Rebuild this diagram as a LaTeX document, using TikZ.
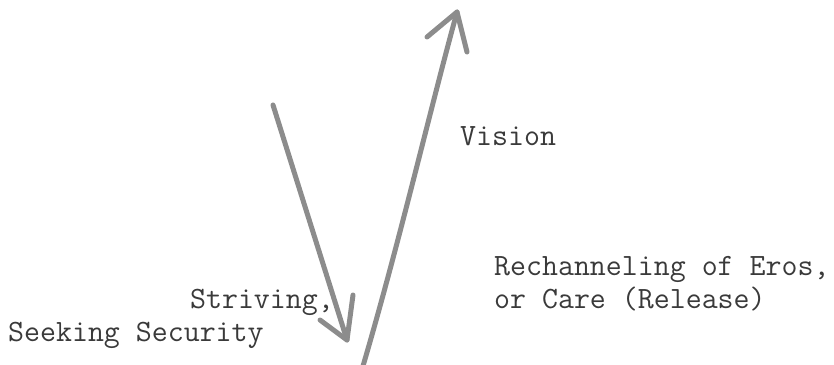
\documentclass[tikz,border=0pt]{standalone}
\usepackage{fontspec}
\usepackage{xcolor}
\usetikzlibrary{arrows.meta,calc}

\definecolor{pencil}{HTML}{8C8C8C}
\definecolor{typed}{HTML}{3A3A3A}

\tikzset{
	stroke/.style={draw=pencil, line width=5pt, line cap=round, line join=round},
	typing/.style={text=typed, inner sep=0pt, font=\ttfamily\fontsize{31}{34}\selectfont}
}

\begin{document}
\begin{tikzpicture}[x=1pt, y=-1pt]
		\useasboundingbox (0,0) rectangle (834,364);
		% 下行箭头
		\coordinate (down-start) at (273,105);
		\coordinate (down-tip) at (347,340);
		\draw[stroke] (down-start) -- (down-tip);
		\draw[stroke] (320,320) -- (down-tip) -- (353,295);
		% 上行箭头
		\coordinate (up-start) at (363,366);
		\coordinate (up-tip) at (457,12);
		\draw[stroke] (up-start) .. controls (400,240) and (430,110) .. (up-tip);
		\draw[stroke] (427,37) -- (up-tip) -- (467,52);
		% 文字
		\node[typing, anchor=base west] (vision) at (460,145) {Vision};
		\node[typing, anchor=base west] (eros) at (494,275) {Rechanneling of Eros,};
		\node[typing, anchor=base west] (care) at (494,308) {or Care (Release)};
		\node[typing, anchor=base east] (striving) at (334,308) {Striving,};
		\node[typing, anchor=base west] (security) at (8,341) {Seeking Security};
	\end{tikzpicture}
\end{document}
